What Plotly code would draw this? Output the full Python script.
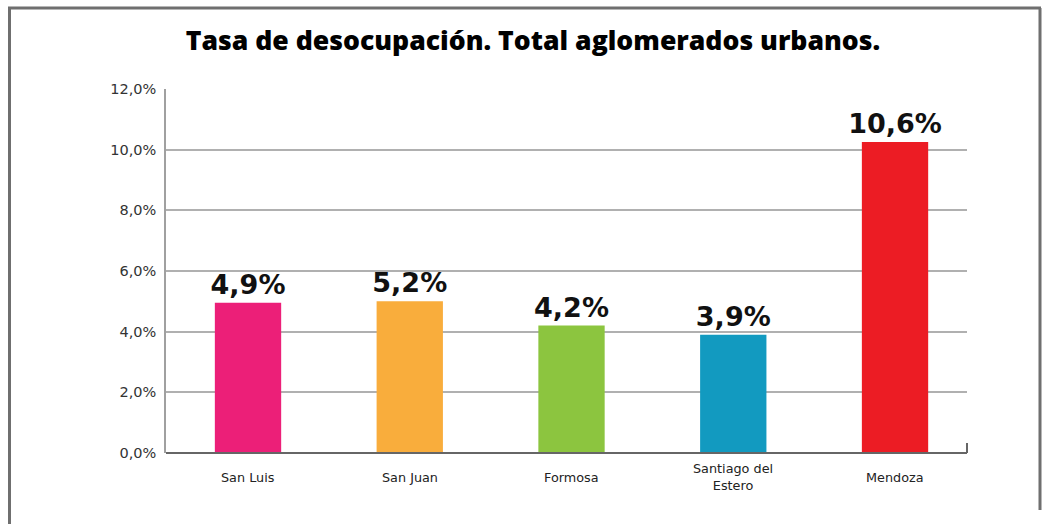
import plotly.graph_objects as go

categories = ["San Luis", "San Juan", "Formosa", "Santiago del<br>Estero", "Mendoza"]
bar_values = [4.95, 5.0, 4.2, 3.9, 10.25]
value_labels = ["4,9%", "5,2%", "4,2%", "3,9%", "10,6%"]
colors = ["#ec1f78", "#f9ad3c", "#8cc53f", "#129ac0", "#ec1c24"]
tick_vals = [0, 2, 4, 6, 8, 10, 12]
tick_text = ["0,0%", "2,0%", "4,0%", "6,0%", "8,0%", "10,0%", "12,0%"]

W, H = 1042, 524
ml, mr, mt, mb = 166, 75, 89, 71
pw, ph = W - ml - mr, H - mt - mb

def px(x):
    return (x - ml) / pw

def py(y):
    return (H - mb - y) / ph

x_pos = list(range(len(categories)))

fig = go.Figure(
    go.Bar(
        x=x_pos,
        y=bar_values,
        marker=dict(color=colors, line=dict(width=0)),
        width=0.41,
        text=value_labels,
        textposition="outside",
        constraintext="none",
        cliponaxis=False,
        textfont=dict(family="DejaVu Sans", size=27, color="#111111", weight="bold"),
        hoverinfo="skip",
    )
)

annotations = [
    dict(x=xi, y=py(477), xref="x", yref="paper", text=c, showarrow=False,
         xanchor="center", yanchor="middle",
         font=dict(family="DejaVu Sans", size=12.8, color="#222222"))
    for xi, c in zip(x_pos, categories)
]

fig.update_layout(
    width=W,
    height=H,
    margin=dict(l=ml, r=mr, t=mt, b=mb, pad=0),
    paper_bgcolor="white",
    plot_bgcolor="white",
    showlegend=False,
    title=dict(
        text="Tasa de desocupación. Total aglomerados urbanos.",
        x=533 / W,
        xanchor="center",
        y=1 - 41 / H,
        yanchor="middle",
        yref="container",
        font=dict(family="Open Sans", size=26.6, color="#000000", weight=800),
    ),
    xaxis=dict(
        range=[-0.507, 4.445],
        showticklabels=False,
        showgrid=False,
        zeroline=False,
        showline=False,
        ticks="",
    ),
    yaxis=dict(
        range=[0, 12],
        tickmode="array",
        tickvals=tick_vals,
        ticktext=tick_text,
        showgrid=True,
        gridcolor="#b0b0b0",
        gridwidth=1.5,
        zeroline=False,
        showline=True,
        linecolor="#a0a0a0",
        linewidth=1.5,
        ticks="",
        tickfont=dict(family="DejaVu Sans", size=14.5, color="#333333"),
        ticklabelstandoff=5,
    ),
    annotations=annotations,
    shapes=[
        dict(type="line", xref="paper", yref="paper", x0=0, x1=1, y0=0, y1=0,
             line=dict(color="#666666", width=2)),
        dict(type="line", xref="paper", yref="paper", x0=1, x1=1, y0=0, y1=10 / ph,
             line=dict(color="#666666", width=2)),
        dict(type="line", xref="paper", yref="paper", x0=px(8), x1=px(1041), y0=py(8), y1=py(8),
             line=dict(color="#6f6f6f", width=3)),
        dict(type="line", xref="paper", yref="paper", x0=px(9.5), x1=px(9.5), y0=py(8), y1=py(524),
             line=dict(color="#6f6f6f", width=3)),
        dict(type="line", xref="paper", yref="paper", x0=px(1040), x1=px(1040), y0=py(8), y1=py(510),
             line=dict(color="#6f6f6f", width=3)),
    ],
)

fig.write_html(
    "out.html",
    config={"displayModeBar": False},
    post_script="document.body.style.margin='0';document.body.style.overflow='hidden';",
)
